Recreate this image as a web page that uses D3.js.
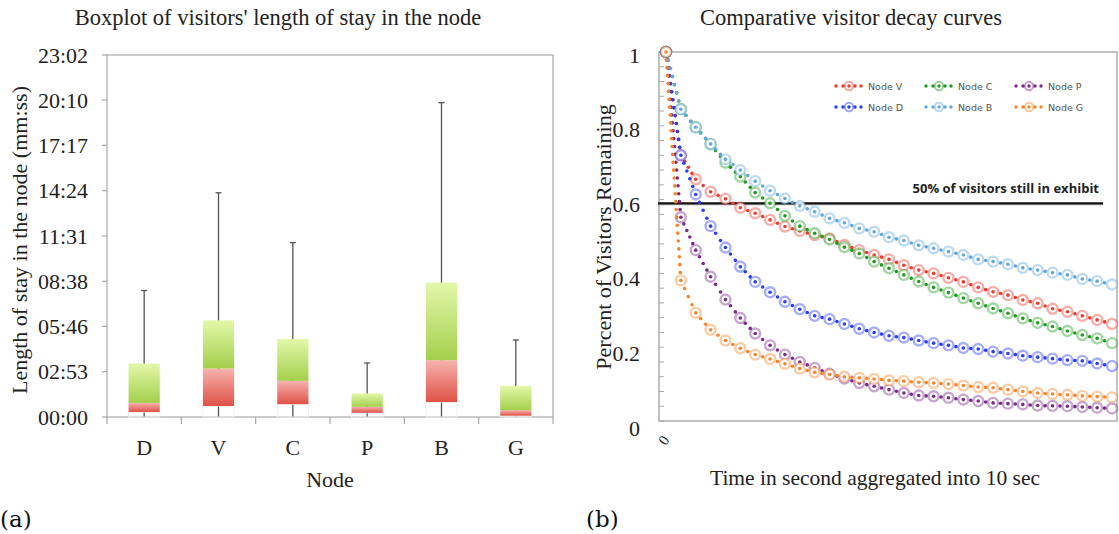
<!DOCTYPE html>
<html>
<head>
<meta charset="utf-8">
<script src="https://cdn.jsdelivr.net/npm/d3@7"></script>
<style>
  body { margin: 0; background: #fff; }
  svg { display: block; }
</style>
</head>
<body>
<svg id="chart" width="1119" height="534"></svg>
<script>
// ---- (a) boxplot data, seconds ----
var nodes = ["D", "V", "C", "P", "B", "G"];
var boxMin = [0, 0, 0, 0, 0, 0];
var boxQ1 = [19, 42, 49, 16, 57, 5];
var boxMedian = [54, 185, 138, 39, 217, 26];
var boxQ3 = [204, 369, 298, 90, 513, 119];
var boxMax = [483, 856, 666, 206, 1200, 294];
var timeTickLabels = ["00:00", "02:53", "05:46", "08:38", "11:31", "14:24", "17:17", "20:10", "23:02"];

// ---- (b) decay curves, share of visitors remaining per 10 s step ----
var seriesNames = ["Node V", "Node C", "Node P", "Node D", "Node B", "Node G"];
var nodeV = [1, 0.72, 0.655, 0.621, 0.602, 0.578, 0.563, 0.545, 0.527, 0.515, 0.504, 0.495, 0.477, 0.463, 0.450, 0.438, 0.422, 0.409, 0.400, 0.388, 0.377, 0.362, 0.350, 0.341, 0.328, 0.319, 0.304, 0.296, 0.285, 0.274, 0.263];
var nodeC = [1, 0.845, 0.796, 0.75, 0.70, 0.662, 0.619, 0.59, 0.556, 0.528, 0.509, 0.492, 0.471, 0.454, 0.432, 0.414, 0.396, 0.378, 0.362, 0.348, 0.333, 0.319, 0.305, 0.292, 0.278, 0.266, 0.256, 0.244, 0.233, 0.224, 0.211];
var nodeP = [1, 0.552, 0.463, 0.391, 0.329, 0.279, 0.237, 0.205, 0.18, 0.16, 0.144, 0.128, 0.115, 0.103, 0.094, 0.085, 0.076, 0.069, 0.067, 0.063, 0.058, 0.054, 0.049, 0.047, 0.045, 0.042, 0.041, 0.040, 0.038, 0.036, 0.034];
var nodeD = [1, 0.72, 0.614, 0.528, 0.470, 0.418, 0.377, 0.349, 0.323, 0.303, 0.285, 0.276, 0.263, 0.250, 0.240, 0.231, 0.226, 0.218, 0.211, 0.205, 0.198, 0.195, 0.188, 0.183, 0.177, 0.173, 0.169, 0.165, 0.163, 0.156, 0.149];
var nodeB = [1, 0.845, 0.796, 0.751, 0.709, 0.680, 0.650, 0.624, 0.603, 0.583, 0.567, 0.549, 0.537, 0.522, 0.513, 0.498, 0.489, 0.476, 0.468, 0.459, 0.450, 0.438, 0.432, 0.425, 0.415, 0.409, 0.402, 0.396, 0.385, 0.379, 0.370];
var nodeG = [1, 0.381, 0.293, 0.247, 0.218, 0.197, 0.180, 0.168, 0.155, 0.142, 0.132, 0.126, 0.120, 0.117, 0.114, 0.110, 0.108, 0.105, 0.103, 0.100, 0.096, 0.092, 0.090, 0.085, 0.080, 0.076, 0.073, 0.071, 0.068, 0.066, 0.064];
var seriesColors = ["#ee3b2f", "#1f9a1f", "#7a2a8a", "#2a3cf5", "#62a6de", "#f7852a"];
var yTickValues = [0, 0.2, 0.4, 0.6, 0.8, 1];
var thresholdValue = 0.59;
var thresholdLabel = "50% of visitors still in exhibit";

var serif = "'Liberation Serif', 'Times New Roman', serif";
var svg = d3.select("#chart");
var defs = svg.append("defs");

function toSec(s) {
  var p = s.split(":");
  return +p[0] * 60 + +p[1];
}

// ================= (a) boxplot =================
var a = { left: 107, right: 553, top: 55, bottom: 417 };

var xa = d3.scaleBand().domain(nodes).range([a.left, a.right]);
var ya = d3.scaleLinear().domain([0, toSec("23:02")]).range([a.bottom, a.top]);

var gGreen = defs.append("linearGradient").attr("id", "gGreen")
  .attr("x1", 0).attr("y1", 0).attr("x2", 0).attr("y2", 1);
gGreen.append("stop").attr("offset", "0%").attr("stop-color", "#e3f8aa");
gGreen.append("stop").attr("offset", "100%").attr("stop-color", "#a4cf4c");
var gRed = defs.append("linearGradient").attr("id", "gRed")
  .attr("x1", 0).attr("y1", 0).attr("x2", 0).attr("y2", 1);
gRed.append("stop").attr("offset", "0%").attr("stop-color", "#f7b2ae");
gRed.append("stop").attr("offset", "100%").attr("stop-color", "#df5246");

svg.append("text")
  .attr("x", 278).attr("y", 25)
  .attr("text-anchor", "middle")
  .style("font-family", serif).style("font-size", "22.5px").style("fill", "#222")
  .text("Boxplot of visitors' length of stay in the node");

var ga = svg.append("g");

// frame
ga.append("rect")
  .attr("x", a.left).attr("y", a.top)
  .attr("width", a.right - a.left).attr("height", a.bottom - a.top)
  .attr("fill", "none").attr("stroke", "#a8a8a8").attr("stroke-width", 1.2);

// y ticks
var yTicks = timeTickLabels.map(toSec);
ga.selectAll(".ytick").data(yTicks).enter().append("line")
  .attr("x1", a.left - 5).attr("x2", a.left)
  .attr("y1", function (d) { return ya(d); })
  .attr("y2", function (d) { return ya(d); })
  .attr("stroke", "#a8a8a8").attr("stroke-width", 1.2);
ga.selectAll(".ylab").data(timeTickLabels).enter().append("text")
  .attr("x", a.left - 19)
  .attr("y", function (d) { return ya(toSec(d)); })
  .attr("dy", "0.35em")
  .attr("text-anchor", "end")
  .style("font-family", serif).style("font-size", "22px").style("fill", "#222")
  .text(function (d) { return d; });

// x ticks at band boundaries
var bounds = nodes.map(function (d) { return xa(d); }).concat([a.right]);
ga.selectAll(".xtick").data(bounds).enter().append("line")
  .attr("x1", function (d) { return d; }).attr("x2", function (d) { return d; })
  .attr("y1", a.bottom).attr("y2", a.bottom + 7)
  .attr("stroke", "#a8a8a8").attr("stroke-width", 1.2);
ga.selectAll(".xlab").data(nodes).enter().append("text")
  .attr("x", function (d) { return xa(d) + xa.bandwidth() / 2; })
  .attr("y", 455)
  .attr("text-anchor", "middle")
  .style("font-family", serif).style("font-size", "22px").style("fill", "#222")
  .text(function (d) { return d; });

ga.append("text")
  .attr("x", 330).attr("y", 487)
  .attr("text-anchor", "middle")
  .style("font-family", serif).style("font-size", "22px").style("fill", "#222")
  .text("Node");

ga.append("text")
  .attr("transform", "translate(27,240) rotate(-90)")
  .attr("text-anchor", "middle")
  .style("font-family", serif).style("font-size", "22px").style("fill", "#222")
  .text("Length of stay in the node (mm:ss)");

var boxW = xa.bandwidth() * 0.42;
var boxes = ga.selectAll(".box").data(nodes).enter().append("g")
  .attr("transform", function (d) { return "translate(" + (xa(d) + xa.bandwidth() / 2) + ",0)"; });

// whisker
boxes.append("line")
  .attr("x1", 0).attr("x2", 0)
  .attr("y1", function (d, i) { return ya(boxMin[i]); })
  .attr("y2", function (d, i) { return ya(boxMax[i]); })
  .attr("stroke", "#555").attr("stroke-width", 1.3);
boxes.append("line")
  .attr("x1", -3).attr("x2", 3)
  .attr("y1", function (d, i) { return ya(boxMax[i]); })
  .attr("y2", function (d, i) { return ya(boxMax[i]); })
  .attr("stroke", "#555").attr("stroke-width", 1.3);

// lower (invisible) part of the stacked box
boxes.append("rect")
  .attr("x", -boxW / 2).attr("width", boxW)
  .attr("y", function (d, i) { return ya(boxQ1[i]); })
  .attr("height", function (d, i) { return ya(boxMin[i]) - ya(boxQ1[i]); })
  .attr("fill", "none").attr("stroke", "#f0f0f0").attr("stroke-width", 1);
boxes.append("rect")
  .attr("x", -boxW / 2).attr("width", boxW)
  .attr("y", function (d, i) { return ya(boxMedian[i]); })
  .attr("height", function (d, i) { return ya(boxQ1[i]) - ya(boxMedian[i]); })
  .attr("fill", "url(#gRed)");
boxes.append("rect")
  .attr("x", -boxW / 2).attr("width", boxW)
  .attr("y", function (d, i) { return ya(boxQ3[i]); })
  .attr("height", function (d, i) { return ya(boxMedian[i]) - ya(boxQ3[i]); })
  .attr("fill", "url(#gGreen)");

svg.append("text")
  .attr("x", 0).attr("y", 527)
  .style("font-family", "'DejaVu Serif', serif").style("font-size", "23px").style("fill", "#111")
  .text("(a)");

// ================= (b) decay curves =================
var b = { left: 659, right: 1117, top: 52, bottom: 421 };
var series = [nodeV, nodeC, nodeP, nodeD, nodeB, nodeG];

var xb = d3.scaleLinear().domain([0, nodeV.length - 1]).range([666, 1112]);
var yb = d3.scaleLinear().domain([0, 1]).range([b.bottom, b.top]);
// the exported tick labels sit slightly lower than the plot ticks
var ybLabel = d3.scaleLinear().domain([0, 1]).range([428, 55]);

svg.append("text")
  .attr("x", 851).attr("y", 25)
  .attr("text-anchor", "middle")
  .style("font-family", serif).style("font-size", "22.5px").style("fill", "#222")
  .text("Comparative visitor decay curves");

var gb = svg.append("g");

gb.append("rect")
  .attr("x", b.left).attr("y", b.top)
  .attr("width", b.right - b.left).attr("height", b.bottom - b.top)
  .attr("fill", "none").attr("stroke", "#a8a8a8").attr("stroke-width", 1.4);

// minor ticks inside the axis
gb.selectAll(".mtick").data(d3.range(0, 26)).enter().append("line")
  .attr("x1", b.left).attr("x2", b.left + 5)
  .attr("y1", function (d) { return yb(d * 0.04); })
  .attr("y2", function (d) { return yb(d * 0.04); })
  .attr("stroke", "#a8a8a8").attr("stroke-width", 1);

var yAxisB = d3.axisLeft(ybLabel).tickValues(yTickValues)
  .tickFormat(function (d) { return d3.format("")(+d.toFixed(1)); })
  .tickSize(0).tickPadding(19);
var yAxisG = gb.append("g").attr("transform", "translate(" + b.left + ",0)").call(yAxisB);
yAxisG.select(".domain").remove();
yAxisG.selectAll("text")
  .style("font-family", serif).style("font-size", "22px").style("fill", "#222");

gb.append("text")
  .attr("transform", "translate(611,237) rotate(-90)")
  .attr("text-anchor", "middle")
  .style("font-family", serif).style("font-size", "22px").style("fill", "#222")
  .text("Percent of Visitors Remaining");

gb.append("text")
  .attr("transform", "translate(" + (xb(0) + 4) + ",440) rotate(-55)")
  .attr("text-anchor", "end")
  .style("font-family", serif).style("font-size", "15px").style("fill", "#222")
  .text("0");

gb.append("text")
  .attr("x", 875).attr("y", 485)
  .attr("text-anchor", "middle")
  .style("font-family", serif).style("font-size", "21.5px").style("fill", "#222")
  .text("Time in second aggregated into 10 sec");

// threshold line
gb.append("line")
  .attr("x1", b.left - 1).attr("x2", 1103)
  .attr("y1", yb(thresholdValue) + 1).attr("y2", yb(thresholdValue) + 1)
  .attr("stroke", "#999").attr("stroke-width", 2.5).attr("opacity", 0.5);
gb.append("line")
  .attr("x1", b.left - 1).attr("x2", 1103)
  .attr("y1", yb(thresholdValue)).attr("y2", yb(thresholdValue))
  .attr("stroke", "#111").attr("stroke-width", 2.2);
gb.append("text")
  .attr("x", 1099).attr("y", yb(thresholdValue) - 10)
  .attr("text-anchor", "end")
  .style("font-family", "'Open Sans', sans-serif").style("font-weight", "bold")
  .style("font-size", "13px").style("fill", "#222")
  .text(thresholdLabel);

// dots spaced evenly along each segment between points
function dotsAlong(pts, step) {
  var out = [];
  for (var i = 0; i < pts.length - 1; i++) {
    var p = pts[i], q = pts[i + 1];
    var len = Math.hypot(q[0] - p[0], q[1] - p[1]);
    var n = Math.max(1, Math.round(len / step));
    for (var k = 0; k < n; k++) {
      out.push([p[0] + (q[0] - p[0]) * k / n, p[1] + (q[1] - p[1]) * k / n]);
    }
  }
  return out;
}

series.forEach(function (vals, s) {
  var col = seriesColors[s];
  var pts = vals.map(function (v, i) { return [xb(i), yb(v)]; });
  var g = gb.append("g");
  g.selectAll(".ring").data(pts).enter().append("circle")
    .attr("cx", function (d) { return d[0]; })
    .attr("cy", function (d) { return d[1]; })
    .attr("r", 5)
    .attr("fill", "#fff").attr("fill-opacity", 0.85)
    .attr("stroke", col).attr("stroke-opacity", 0.42).attr("stroke-width", 2.4);
  g.selectAll(".dot").data(dotsAlong(pts, 8)).enter().append("circle")
    .attr("cx", function (d) { return d[0]; })
    .attr("cy", function (d) { return d[1]; })
    .attr("r", 1.8)
    .attr("fill", col);
});

// legend, 3 columns x 2 rows
var legend = gb.selectAll(".leg").data(seriesNames).enter().append("g")
  .attr("transform", function (d, i) {
    return "translate(" + (836 + (i % 3) * 90) + "," + (86 + Math.floor(i / 3) * 21) + ")";
  });
legend.each(function (d, i) {
  var g = d3.select(this);
  var col = seriesColors[i];
  g.append("circle").attr("cx", 13).attr("cy", 0).attr("r", 4.2)
    .attr("fill", "#fff").attr("stroke", col).attr("stroke-opacity", 0.45).attr("stroke-width", 2);
  g.selectAll(".ld").data([0, 7, 13, 19, 25]).enter().append("circle")
    .attr("cx", function (x) { return x; }).attr("cy", 0).attr("r", 1.7).attr("fill", col);
  g.append("text").attr("x", 32).attr("y", 3.5)
    .style("font-family", "'DejaVu Sans', sans-serif").style("font-size", "9.5px").style("fill", "#555")
    .text(d);
});

svg.append("text")
  .attr("x", 586).attr("y", 527)
  .style("font-family", "'DejaVu Serif', serif").style("font-size", "23px").style("fill", "#111")
  .text("(b)");
</script>
</body>
</html>
